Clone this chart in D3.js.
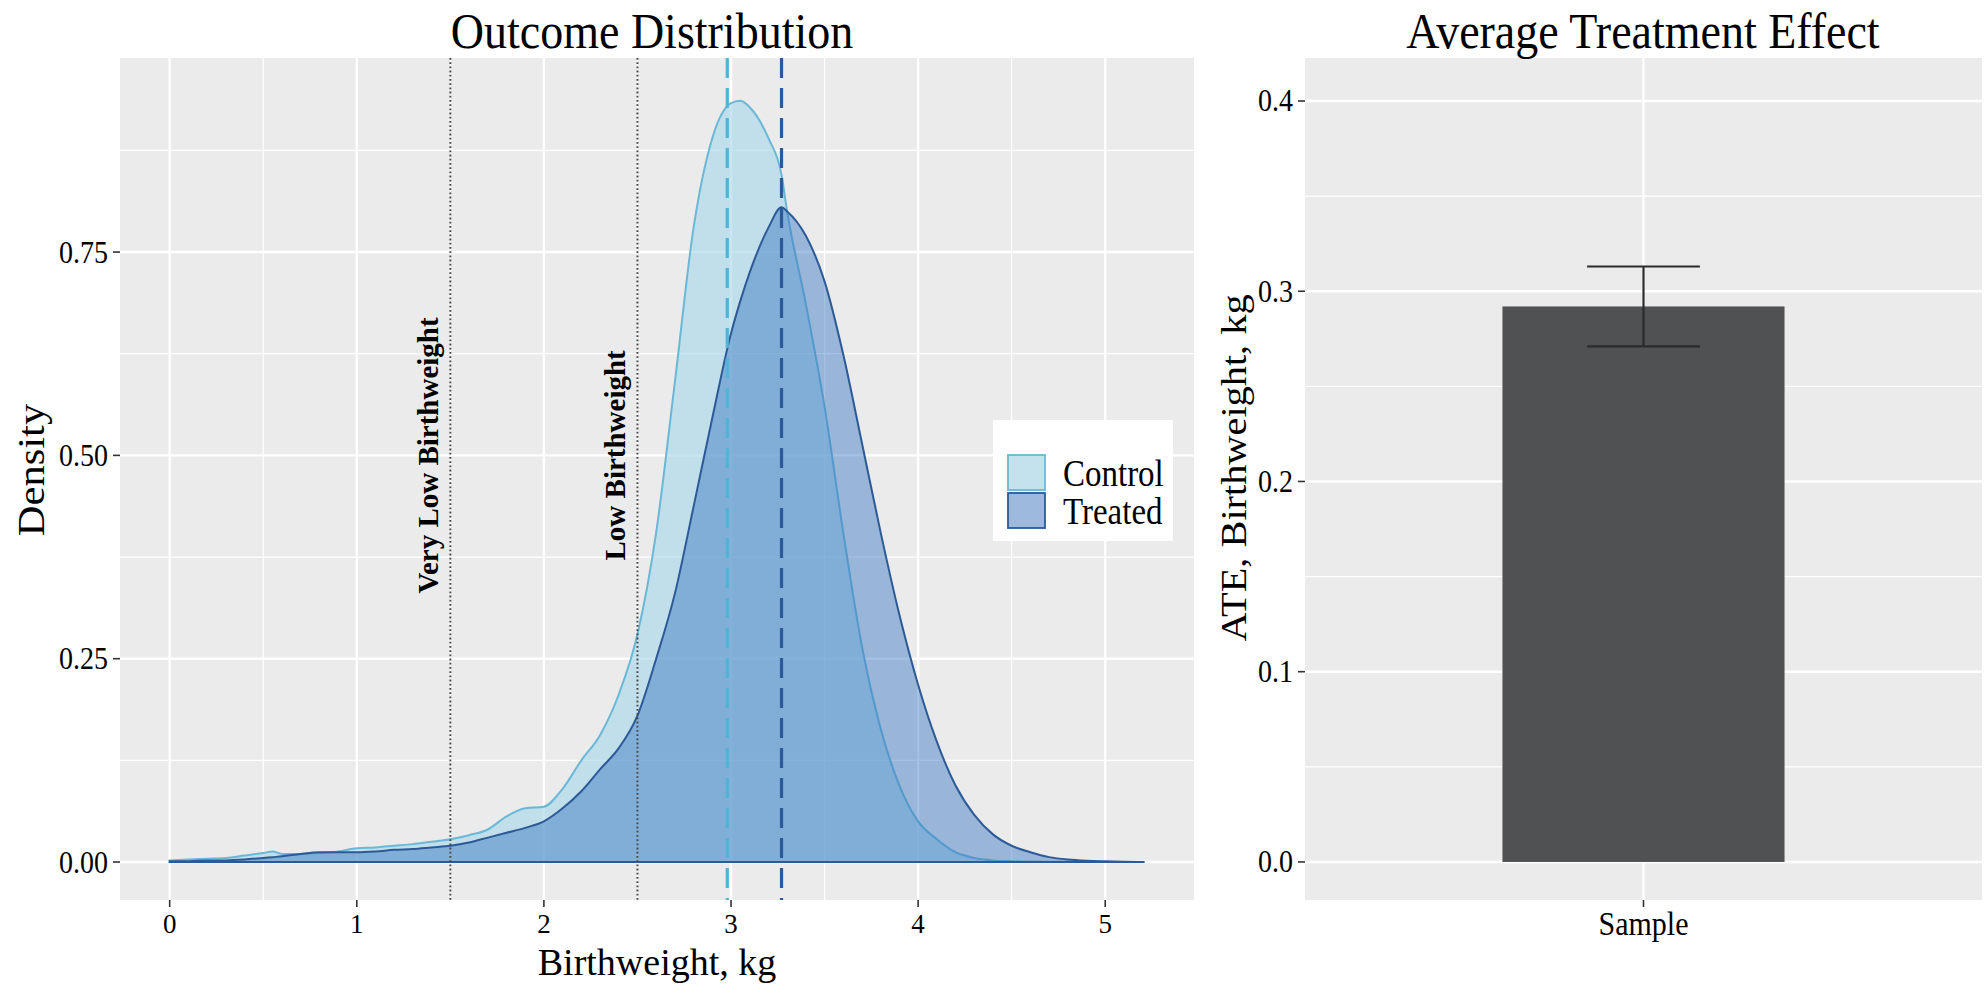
<!DOCTYPE html>
<html>
<head>
<meta charset="utf-8">
<script src="https://cdn.jsdelivr.net/npm/d3@7"></script>
<style>
  html, body { margin: 0; padding: 0; background: #ffffff; }
  svg { display: block; }
</style>
</head>
<body>
<svg id="chart" width="1987" height="985"></svg>
<script>
// ---------------- DATA ----------------
const densityX = [0.0, 0.1, 0.2, 0.3, 0.4, 0.5, 0.55, 0.6, 0.7, 0.8, 0.9, 1.0, 1.1, 1.2, 1.3, 1.4, 1.5, 1.6, 1.7, 1.8, 1.9, 2.0, 2.1, 2.2, 2.3, 2.4, 2.5, 2.6, 2.7, 2.8, 2.9, 3.0, 3.05, 3.1, 3.2, 3.27, 3.3, 3.4, 3.5, 3.6, 3.7, 3.8, 3.9, 4.0, 4.1, 4.2, 4.3, 4.4, 4.5, 4.6, 4.7, 4.8, 4.9, 5.0, 5.1, 5.21];
const controlDensity = [0.002, 0.003, 0.004, 0.005, 0.008, 0.011, 0.013, 0.010, 0.010, 0.011, 0.013, 0.017, 0.018, 0.020, 0.022, 0.025, 0.028, 0.033, 0.040, 0.056, 0.066, 0.068, 0.090, 0.125, 0.156, 0.206, 0.280, 0.405, 0.590, 0.780, 0.890, 0.933, 0.936, 0.928, 0.890, 0.845, 0.800, 0.686, 0.560, 0.405, 0.265, 0.164, 0.094, 0.050, 0.028, 0.012, 0.005, 0.002, 0.001, 0.0005, 0.0003, 0.0002, 0.0001, 0.0, 0.0, 0.0];
const treatedDensity = [0.001, 0.001, 0.002, 0.002, 0.003, 0.005, 0.006, 0.007, 0.010, 0.012, 0.012, 0.012, 0.013, 0.015, 0.016, 0.018, 0.020, 0.024, 0.030, 0.036, 0.042, 0.050, 0.066, 0.087, 0.114, 0.140, 0.180, 0.250, 0.330, 0.437, 0.546, 0.650, 0.690, 0.725, 0.780, 0.805, 0.800, 0.770, 0.714, 0.624, 0.515, 0.405, 0.304, 0.218, 0.148, 0.094, 0.058, 0.034, 0.020, 0.012, 0.006, 0.003, 0.0015, 0.0008, 0.0003, 0.0];
const groupNames = ["Control", "Treated"];
const groupMeans = [2.98, 3.27];
const thresholdValues = [1.5, 2.5];
const thresholdLabels = ["Very Low Birthweight", "Low Birthweight"];
const thresholdLabelY = [0.5, 0.5];
const xTicksLeft = [0, 1, 2, 3, 4, 5];
const xMinorLeft = [0.5, 1.5, 2.5, 3.5, 4.5];
const yTicksLeft = [0, 0.25, 0.5, 0.75];
const yMinorLeft = [0.125, 0.375, 0.625, 0.875];
const yTickLabelsLeft = ["0.00", "0.25", "0.50", "0.75"];

const ateCategories = ["Sample"];
const ateValues = [0.292];
const ateLower = [0.271];
const ateUpper = [0.313];
const yTicksRight = [0, 0.1, 0.2, 0.3, 0.4];
const yMinorRight = [0.05, 0.15, 0.25, 0.35];
const yTickLabelsRight = ["0.0", "0.1", "0.2", "0.3", "0.4"];

const titles = ["Outcome Distribution", "Average Treatment Effect"];
const xTitleLeft = "Birthweight, kg";
const yTitleLeft = "Density";
const yTitleRight = "ATE, Birthweight, kg";

// ---------------- STYLE ----------------
const FONT = "'Liberation Serif', 'Times New Roman', Times, serif";
const KY = 1.12;          // vertical stretch of the reference's text
const PANEL_BG = "#ebebeb";
const ctrlFill = "#a9d9ea", ctrlFillOp = 0.65, ctrlLine = "#6ab8d6";
const trtFill = "#3574c0", trtFillOp = 0.45, trtLine = "#2c5a96";
const ctrlMeanCol = "#4fb4d8", trtMeanCol = "#2b5a98";

const svg = d3.select("#chart");

function addText(parent, x, y, str, o) {
  const g = parent.append("g");
  const ky = o.ky == null ? KY : o.ky;
  let tr = `translate(${x},${y})`;
  if (o.rotate) tr += ` rotate(${o.rotate}) scale(${ky},1)`;
  else tr += ` scale(1,${ky})`;
  g.attr("transform", tr);
  g.append("text")
    .attr("x", 0).attr("y", 0)
    .attr("text-anchor", o.anchor || "middle")
    .attr("font-family", FONT)
    .attr("font-size", o.size)
    .attr("font-weight", o.weight || "normal")
    .attr("fill", o.fill || "#000")
    .text(str);
  return g;
}

// ---------------- LEFT PANEL ----------------
const L = { x0: 120, x1: 1194, y0: 58, y1: 900 };
const xL = d3.scaleLinear().domain([-0.2655, 5.4745]).range([L.x0, L.x1]);
const yL = d3.scaleLinear().domain([-0.0467, 0.9886]).range([L.y1, L.y0]);

const gl = svg.append("g");
gl.append("rect").attr("x", L.x0).attr("y", L.y0).attr("width", L.x1 - L.x0).attr("height", L.y1 - L.y0).attr("fill", PANEL_BG);

// grid
gl.selectAll(".ymin").data(yMinorLeft).join("line")
  .attr("x1", L.x0).attr("x2", L.x1).attr("y1", d => yL(d)).attr("y2", d => yL(d))
  .attr("stroke", "#fff").attr("stroke-width", 1.2);
gl.selectAll(".xmin").data(xMinorLeft).join("line")
  .attr("y1", L.y0).attr("y2", L.y1).attr("x1", d => xL(d)).attr("x2", d => xL(d))
  .attr("stroke", "#fff").attr("stroke-width", 1.2);
gl.selectAll(".ymaj").data(yTicksLeft).join("line")
  .attr("x1", L.x0).attr("x2", L.x1).attr("y1", d => yL(d)).attr("y2", d => yL(d))
  .attr("stroke", "#fff").attr("stroke-width", 2.4);
gl.selectAll(".xmaj").data(xTicksLeft).join("line")
  .attr("y1", L.y0).attr("y2", L.y1).attr("x1", d => xL(d)).attr("x2", d => xL(d))
  .attr("stroke", "#fff").attr("stroke-width", 2.4);

// densities
const area = d3.area().x(d => xL(d[0])).y0(yL(0)).y1(d => yL(d[1])).curve(d3.curveMonotoneX);
const ctrlPts = densityX.map((x, i) => [x, controlDensity[i]]);
const trtPts = densityX.map((x, i) => [x, treatedDensity[i]]);
gl.append("path").attr("d", area(ctrlPts) + "Z")
  .attr("fill", ctrlFill).attr("fill-opacity", ctrlFillOp)
  .attr("stroke", ctrlLine).attr("stroke-width", 2);
gl.append("path").attr("d", area(trtPts) + "Z")
  .attr("fill", trtFill).attr("fill-opacity", trtFillOp)
  .attr("stroke", trtLine).attr("stroke-width", 2);

// threshold dotted lines
gl.selectAll(".thr").data(thresholdValues).join("line")
  .attr("x1", d => xL(d)).attr("x2", d => xL(d)).attr("y1", L.y0).attr("y2", L.y1)
  .attr("stroke", "#444").attr("stroke-width", 1.9).attr("stroke-dasharray", "1.8,2.4");

// mean dashed lines
const meanCols = [ctrlMeanCol, trtMeanCol];
gl.selectAll(".mean").data(groupMeans).join("line")
  .attr("x1", d => xL(d)).attr("x2", d => xL(d)).attr("y1", L.y0).attr("y2", L.y1)
  .attr("stroke", (d, i) => meanCols[i]).attr("stroke-width", 3.2).attr("stroke-dasharray", "20,10");

// threshold labels
thresholdValues.forEach((v, i) => {
  addText(gl, xL(v) - 12, yL(thresholdLabelY[i]), thresholdLabels[i], { size: 29, weight: "bold", rotate: -90, ky: 1.0 });
});

// legend
const lg = gl.append("g");
lg.append("rect").attr("x", 993).attr("y", 420).attr("width", 180).attr("height", 121).attr("fill", "#fff");
const keyFills = [[ctrlFill, ctrlFillOp, ctrlLine], [trtFill, trtFillOp, trtLine]];
groupNames.forEach((nm, i) => {
  const ky0 = 454 + i * 38;
  lg.append("rect").attr("x", 1008).attr("y", ky0 + 1).attr("width", 37).attr("height", 35).attr("fill", "#f2f2f2");
  lg.append("rect").attr("x", 1008).attr("y", ky0 + 1).attr("width", 37).attr("height", 35)
    .attr("fill", keyFills[i][0]).attr("fill-opacity", keyFills[i][1])
    .attr("stroke", keyFills[i][2]).attr("stroke-width", 1.8);
  addText(lg, 1063, ky0 + 32, nm, { size: 33, anchor: "start" });
});

// axes ticks & labels
gl.selectAll(".ytk").data(yTicksLeft).join("line")
  .attr("x1", L.x0 - 7).attr("x2", L.x0).attr("y1", d => yL(d)).attr("y2", d => yL(d))
  .attr("stroke", "#333").attr("stroke-width", 1.6);
yTicksLeft.forEach((v, i) => addText(gl, L.x0 - 12, yL(v) + 10.5, yTickLabelsLeft[i], { size: 28, anchor: "end" }));
gl.selectAll(".xtk").data(xTicksLeft).join("line")
  .attr("y1", L.y1).attr("y2", L.y1 + 7).attr("x1", d => xL(d)).attr("x2", d => xL(d))
  .attr("stroke", "#333").attr("stroke-width", 1.6);
xTicksLeft.forEach(v => addText(gl, xL(v), 933, String(v), { size: 27, ky: 1.0 }));

addText(gl, (L.x0 + L.x1) / 2, 975, xTitleLeft, { size: 38, ky: 1.0 });
addText(gl, 44, 470, yTitleLeft, { size: 38, rotate: -90 });
addText(gl, 652, 48, titles[0], { size: 46, ky: 1.08 });

// ---------------- RIGHT PANEL ----------------
const R = { x0: 1305, x1: 1982, y0: 58, y1: 900 };
const xR = d3.scaleBand().domain(ateCategories).range([R.x0, R.x1]).paddingInner(0).paddingOuter(0);
const yR = d3.scaleLinear().domain([-0.02, 0.4226]).range([R.y1, R.y0]);
const gr = svg.append("g");
gr.append("rect").attr("x", R.x0).attr("y", R.y0).attr("width", R.x1 - R.x0).attr("height", R.y1 - R.y0).attr("fill", PANEL_BG);
gr.selectAll(".ymin").data(yMinorRight).join("line")
  .attr("x1", R.x0).attr("x2", R.x1).attr("y1", d => yR(d)).attr("y2", d => yR(d))
  .attr("stroke", "#fff").attr("stroke-width", 1.2);
gr.selectAll(".ymaj").data(yTicksRight).join("line")
  .attr("x1", R.x0).attr("x2", R.x1).attr("y1", d => yR(d)).attr("y2", d => yR(d))
  .attr("stroke", "#fff").attr("stroke-width", 2.4);
const catCenter = d => xR(d) + xR.bandwidth() / 2;
gr.selectAll(".xmaj").data(ateCategories).join("line")
  .attr("x1", catCenter).attr("x2", catCenter).attr("y1", R.y0).attr("y2", R.y1)
  .attr("stroke", "#fff").attr("stroke-width", 2.4);

// ggplot discrete: category at 1, limits [0.4, 1.6], bar width 0.5, errorbar width 0.2
const unit = xR.bandwidth() / 1.2;
gr.selectAll(".bar").data(ateCategories).join("rect")
  .attr("x", d => catCenter(d) - 0.25 * unit).attr("width", 0.5 * unit)
  .attr("y", (d, i) => yR(ateValues[i])).attr("height", (d, i) => yR(0) - yR(ateValues[i]))
  .attr("fill", "#505153");
ateCategories.forEach((c, i) => {
  const cx = catCenter(c), hw = 0.1 * unit;
  const eg = gr.append("g").attr("stroke", "#2b2b2b").attr("stroke-width", 2.2).attr("fill", "none");
  eg.append("line").attr("x1", cx).attr("x2", cx).attr("y1", yR(ateUpper[i])).attr("y2", yR(ateLower[i]));
  eg.append("line").attr("x1", cx - hw).attr("x2", cx + hw).attr("y1", yR(ateUpper[i])).attr("y2", yR(ateUpper[i]));
  eg.append("line").attr("x1", cx - hw).attr("x2", cx + hw).attr("y1", yR(ateLower[i])).attr("y2", yR(ateLower[i]));
});

gr.selectAll(".ytk").data(yTicksRight).join("line")
  .attr("x1", R.x0 - 7).attr("x2", R.x0).attr("y1", d => yR(d)).attr("y2", d => yR(d))
  .attr("stroke", "#333").attr("stroke-width", 1.6);
yTicksRight.forEach((v, i) => addText(gr, R.x0 - 12, yR(v) + 10.5, yTickLabelsRight[i], { size: 28, anchor: "end" }));
gr.selectAll(".xtk").data(ateCategories).join("line")
  .attr("x1", catCenter).attr("x2", catCenter).attr("y1", R.y1).attr("y2", R.y1 + 7)
  .attr("stroke", "#333").attr("stroke-width", 1.6);
ateCategories.forEach(c => addText(gr, catCenter(c), 935, c, { size: 30 }));
addText(gr, 1246, 468, yTitleRight, { size: 36, rotate: -90 });
addText(gr, 1643, 48, titles[1], { size: 46, ky: 1.08 });
</script>
</body>
</html>
